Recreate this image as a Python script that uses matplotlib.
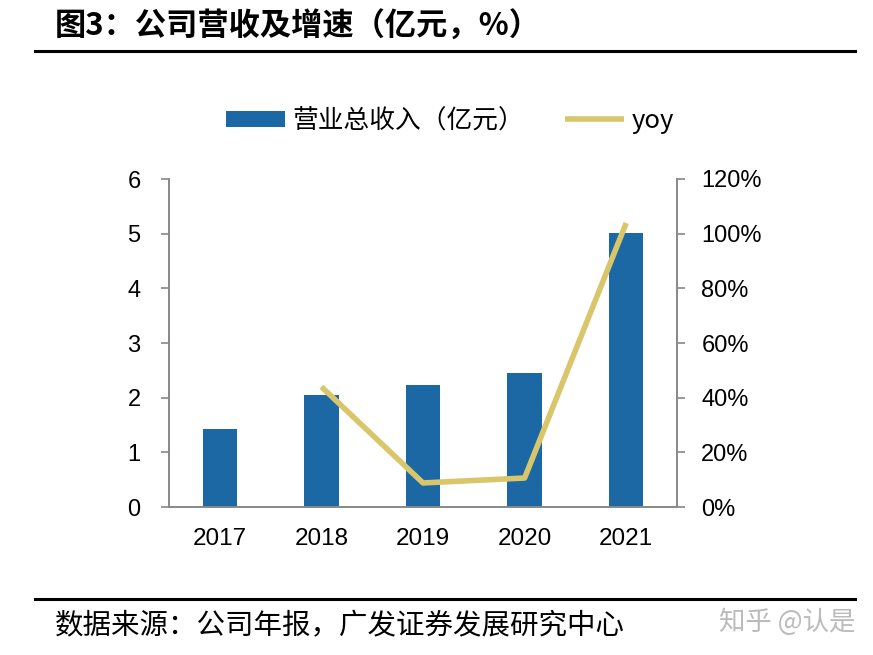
import numpy as np
import matplotlib.pyplot as plt
from matplotlib.ticker import FuncFormatter

plt.rcParams['font.family'] = ['Liberation Sans', 'Noto Sans CJK SC', 'DejaVu Sans']

# 数据
years = ['2017', '2018', '2019', '2020', '2021']
revenue = [1.43, 2.05, 2.24, 2.46, 5.01]          # 营业总收入（亿元）
yoy_years = ['2018', '2019', '2020', '2021']
yoy = [44.0, 8.8, 10.6, 103.9]                     # 增速 %

bar_color = '#1C68A5'
line_color = '#D9C66A'
spine_color = '#888888'
cjk = ['Noto Sans CJK SC', 'DejaVu Sans']

fig = plt.figure(figsize=(8.73, 6.55), dpi=100)
ax = fig.add_axes([169 / 873, 1 - 507 / 655, (677 - 169) / 873, (507 - 179) / 655])

x = np.arange(len(years))
bars = ax.bar(x, revenue, width=0.34, color=bar_color, label='营业总收入（亿元）', zorder=2)
ax.set_xlim(-0.5, len(years) - 0.5)
ax.set_ylim(0, 6)
ax.set_yticks(range(0, 7))
ax.set_xticks(x)
ax.set_xticklabels(years)

ax2 = ax.twinx()
xi = [years.index(y) for y in yoy_years]
line, = ax2.plot(xi, yoy, color=line_color, lw=4, label='yoy', zorder=3, solid_capstyle='butt')
ax2.set_ylim(0, 120)
ax2.set_yticks(range(0, 121, 20))
ax2.yaxis.set_major_formatter(FuncFormatter(lambda v, p: f'{int(v)}%'))

for a, pad in ((ax, 15), (ax2, 12)):
    for s in a.spines.values():
        s.set_color(spine_color)
        s.set_linewidth(1.2)
    a.spines['top'].set_visible(False)
    a.tick_params(axis='y', direction='out', length=5.5, width=1.2, color=spine_color,
                  labelsize=17, pad=pad)
    a.tick_params(axis='x', length=0, labelsize=17.5, pad=15)

# 图例
fig.legend([bars, line], ['营业总收入（亿元）', 'yoy'], loc='center',
           bbox_to_anchor=(450 / 873, 1 - 121 / 655), ncol=2, frameon=False,
           prop={'family': cjk, 'size': 18.5}, handlelength=2.3, handleheight=0.6,
           columnspacing=1.6, handletextpad=0.3)

# 标题与来源
fig.text(55 / 873, 1 - 27 / 655, '图3：公司营收及增速（亿元，%）', fontsize=22.5,
         fontweight='bold', family=cjk, va='center', ha='left')
fig.add_artist(plt.Line2D([35 / 873, 855 / 873], [1 - 51 / 655] * 2, color='black', lw=2.2))
fig.add_artist(plt.Line2D([35 / 873, 855 / 873], [1 - 599 / 655] * 2, color='black', lw=2.2))
fig.text(55 / 873, 1 - 626 / 655, '数据来源：公司年报，广发证券发展研究中心', fontsize=20.5,
         family=cjk, va='center', ha='left')
fig.text(855 / 873, 1 - 622 / 655, '知乎 @认是', fontsize=19, color='#BBBBBB',
         family=cjk, va='center', ha='right')

fig.savefig('out.png', dpi=100)
